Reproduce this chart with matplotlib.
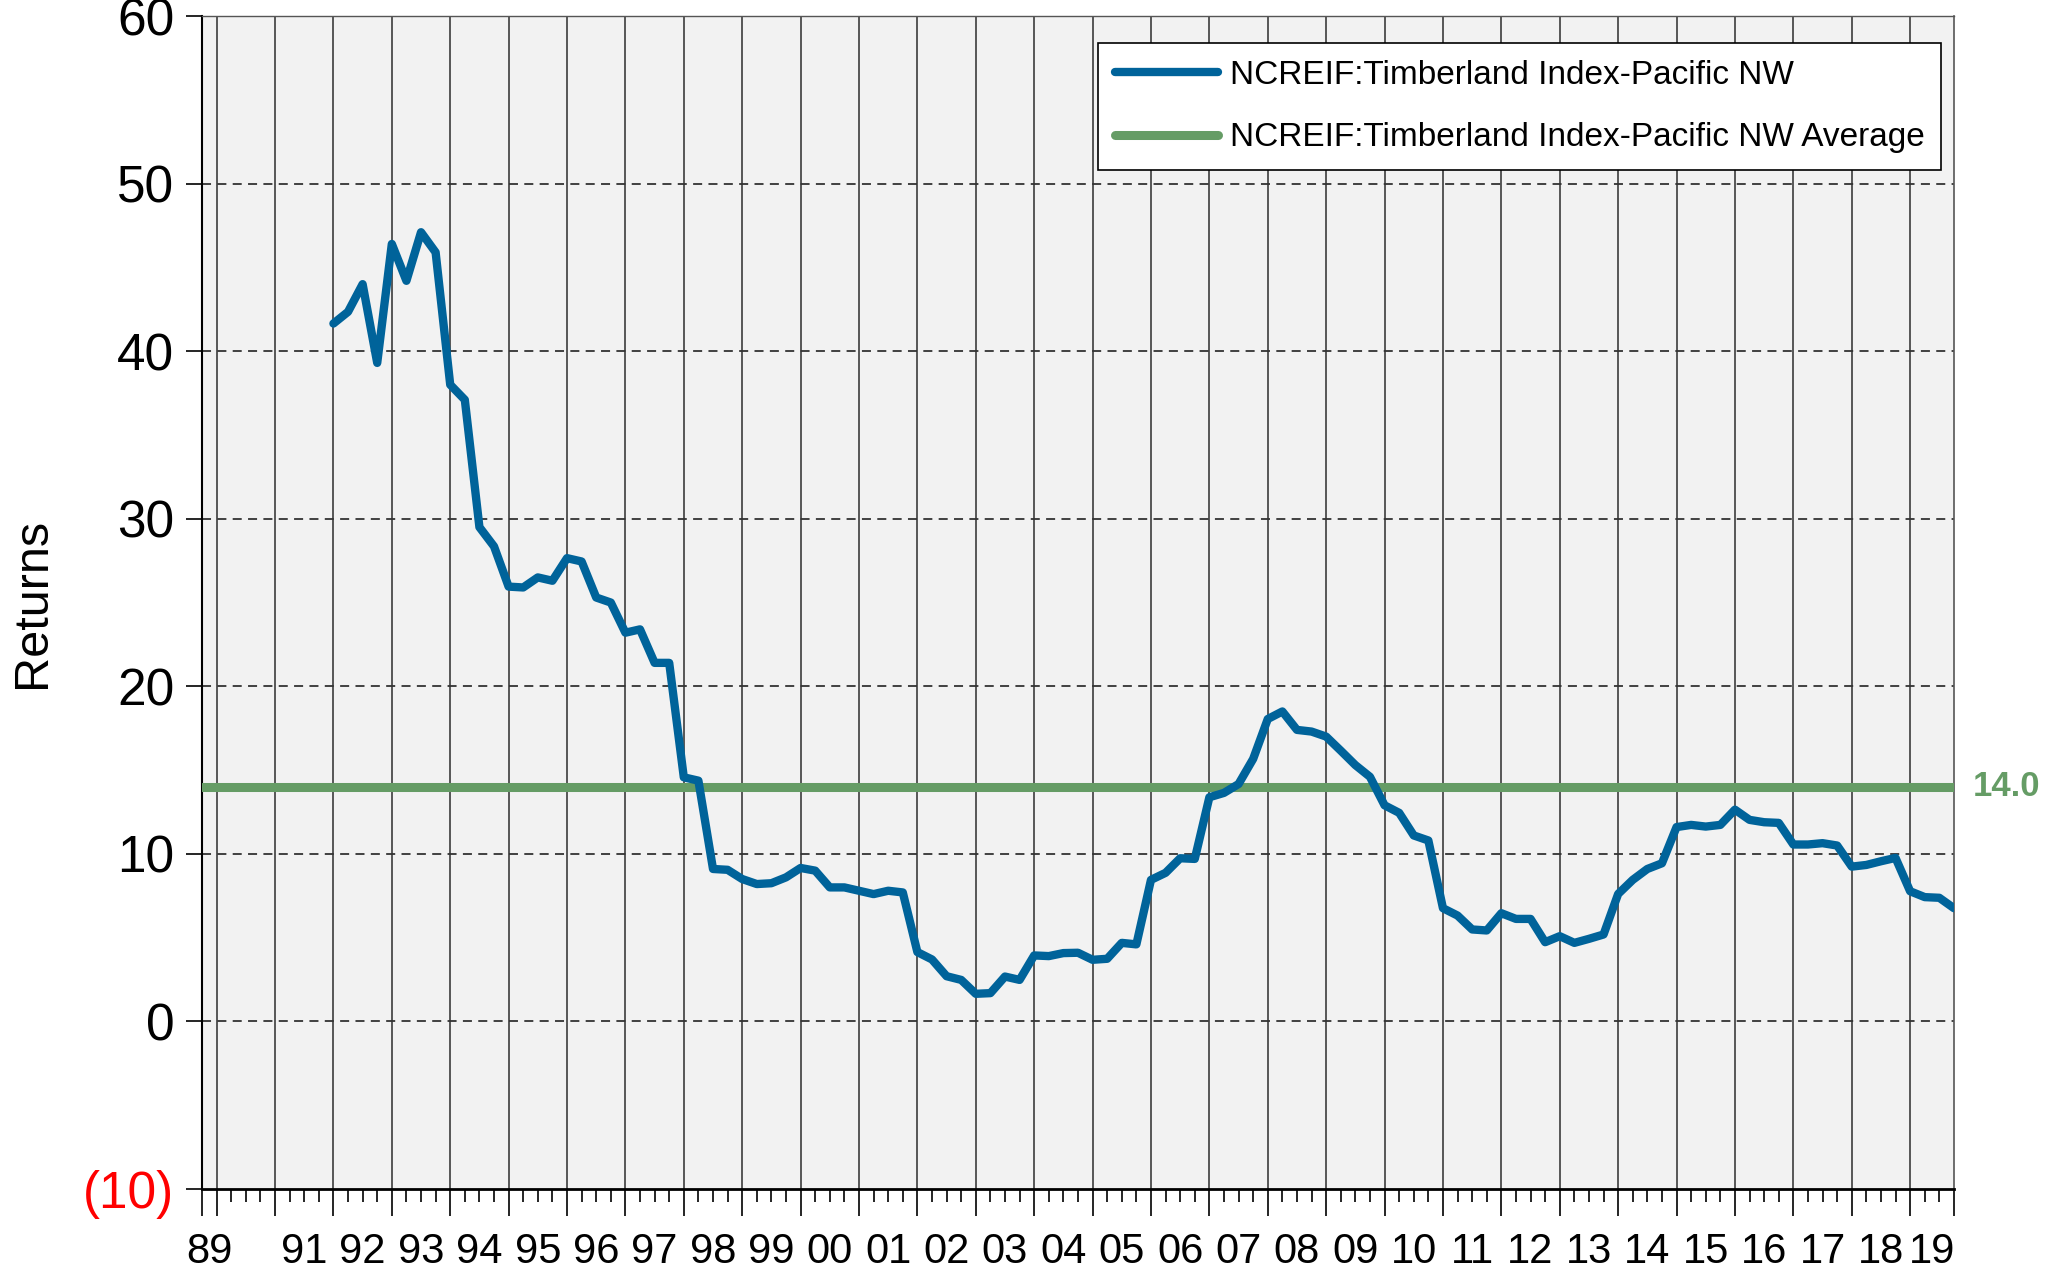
import numpy as np
import matplotlib
matplotlib.use("Agg")
import matplotlib.pyplot as plt
from matplotlib.ticker import FixedLocator

plt.rcParams['font.family'] = ['Liberation Sans', 'DejaVu Sans']

# quarterly returns, first value is 1991Q4 (plotted at quarter end)
first_year, first_quarter = 1991, 4
returns = [
    41.65, 42.35, 44.0, 39.3,
    46.4, 44.2, 47.1, 45.9,
    38.0, 37.1, 29.5, 28.35,
    25.95, 25.9, 26.5, 26.3,
    27.65, 27.45, 25.3, 25.0,
    23.2, 23.4, 21.4, 21.4,
    14.57, 14.37, 9.1, 9.05,
    8.5, 8.2, 8.25, 8.6,
    9.16, 9.0, 8.0, 8.0,
    7.8, 7.6, 7.8, 7.7,
    4.14, 3.7, 2.7, 2.48,
    1.65, 1.69, 2.68, 2.48,
    3.94, 3.9, 4.08, 4.1,
    3.68, 3.74, 4.69, 4.6,
    8.45, 8.87, 9.74, 9.7,
    13.38, 13.64, 14.17, 15.67,
    18.05, 18.5, 17.4, 17.3,
    17.0, 16.16, 15.3, 14.6,
    12.9, 12.45, 11.1, 10.8,
    6.76, 6.32, 5.49, 5.43,
    6.46, 6.12, 6.12, 4.73,
    5.09, 4.69, 4.93, 5.19,
    7.61, 8.45, 9.1, 9.44,
    11.6, 11.73, 11.63, 11.73,
    12.64, 12.03, 11.89, 11.85,
    10.56, 10.56, 10.64, 10.5,
    9.24, 9.34, 9.56, 9.76,
    7.77, 7.42, 7.38, 6.76,
]
average = 14.0

series_label = 'NCREIF:Timberland Index-Pacific NW'
avg_label = 'NCREIF:Timberland Index-Pacific NW Average'

year_labels = ['89', '91', '92', '93', '94', '95', '96', '97', '98', '99', '00',
               '01', '02', '03', '04', '05', '06', '07', '08', '09', '10', '11',
               '12', '13', '14', '15', '16', '17', '18', '19']
label_years = [1989] + list(range(1991, 2020))

y_ticks = [-10, 0, 10, 20, 30, 40, 50, 60]
y_tick_labels = ['(10)', '0', '10', '20', '30', '40', '50', '60']

x_start, x_end = 1989.75, 2019.75

# quarter-end positions in decimal years
n = len(returns)
x = first_year + (first_quarter + np.arange(n)) / 4.0

blue = '#00639a'
green = '#659c65'

fig = plt.figure(figsize=(20.49, 12.74), dpi=100)
ax = fig.add_axes([0.0986, 0.0667, 0.9536 - 0.0986, 0.9874 - 0.0667])
ax.set_facecolor('#f2f2f2')

ax.set_xlim(x_start, x_end)
ax.set_ylim(-10, 60)

# vertical year lines
for yr in range(1990, 2020):
    ax.axvline(yr, color='#4a4a4a', lw=1.3, zorder=1)
# horizontal dashed grid
for yv in [0, 10, 20, 30, 40, 50]:
    ax.axhline(yv, color='#333333', lw=1.3, linestyle=(0, (5, 3.5)), zorder=1)

ax.plot([x_start, x_end], [average, average], color=green, lw=6.5,
        solid_capstyle='round', label=avg_label, zorder=3)
ax.plot(x, returns, color=blue, lw=6, solid_joinstyle='round',
        solid_capstyle='round', label=series_label, zorder=4)

ax.text(1.0105, average, f'{average:.1f}', transform=ax.get_yaxis_transform(),
        ha='left', va='center', color=green, fontsize=25, fontweight='bold')

# y axis
ax.set_yticks(y_ticks)
ax.set_yticklabels(y_tick_labels, fontsize=37)
for lab in ax.get_yticklabels():
    if lab.get_text().startswith('('):
        lab.set_color('red')
ax.tick_params(axis='y', direction='out', length=11.5, width=1.2, pad=8.5)
ax.set_ylabel('Returns', fontsize=35)
ax.yaxis.set_label_coords(-0.0839, 0.5)

# x axis: long ticks at year boundaries, short at quarters, labels centred
major = [x_start] + list(range(1990, 2020)) + [x_end]
ax.xaxis.set_major_locator(FixedLocator(major))
ax.xaxis.set_minor_locator(FixedLocator(np.arange(x_start, x_end + 0.01, 0.25)))
ax.set_xticklabels([])
ax.tick_params(axis='x', which='major', direction='out', length=19.5, width=1.2)
ax.tick_params(axis='x', which='minor', direction='out', length=9.5, width=1.2)

mids = []
for yr in label_years:
    lo, hi = max(yr, x_start), min(yr + 1, x_end)
    mids.append((lo + hi) / 2)
sec = ax.secondary_xaxis('bottom')
sec.set_xticks(mids)
sec.set_xticklabels(year_labels, fontsize=30)
sec.tick_params(length=0, pad=31)
sec.spines['bottom'].set_visible(False)

ax.spines['left'].set_color('black')
ax.spines['left'].set_linewidth(1.5)
ax.spines['bottom'].set_color('black')
ax.spines['bottom'].set_linewidth(2)
ax.spines['right'].set_color('#555555')
ax.spines['right'].set_linewidth(1.2)
ax.spines['top'].set_color('#555555')
ax.spines['top'].set_linewidth(1.0)

h, l = ax.get_legend_handles_labels()
leg = ax.legend(h[::-1], l[::-1], loc='upper right', bbox_to_anchor=(0.9926, 0.977),
                borderaxespad=0, fontsize=24, frameon=True, fancybox=False,
                edgecolor='black', framealpha=1, handlelength=3.1,
                handletextpad=0.35, labelspacing=0.95, borderpad=0.5)
leg.get_frame().set_linewidth(1.2)

fig.savefig('out.png', dpi=100)
